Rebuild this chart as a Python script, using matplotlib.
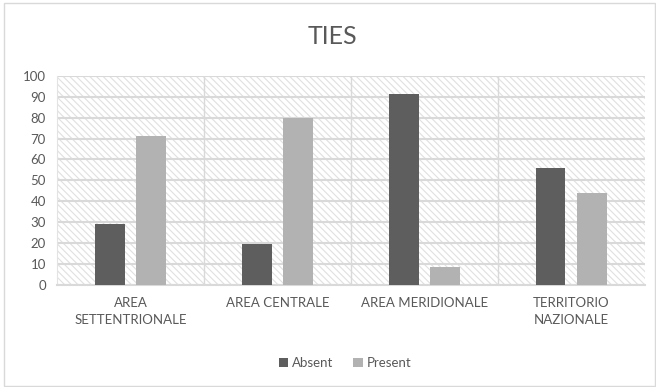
import matplotlib.pyplot as plt
import numpy as np
from matplotlib.patches import Rectangle

plt.rcParams['font.family'] = ['Lato', 'DejaVu Sans']
plt.rcParams['hatch.linewidth'] = 0.8

categories = ["AREA\nSETTENTRIONALE", "AREA CENTRALE", "AREA MERIDIONALE", "TERRITORIO\nNAZIONALE"]
absent = [29, 19.5, 91.5, 56]
present = [71, 80, 8.5, 44]
yticks = [0, 10, 20, 30, 40, 50, 60, 70, 80, 90, 100]

fig = plt.figure(figsize=(6.56, 3.87), dpi=100)
ax = fig.add_axes([0.087, 0.264, 0.896, 0.540])

# hatched plot background
ax.add_patch(Rectangle((0, 0), 1, 1, transform=ax.transAxes, facecolor='white',
                       edgecolor='#e0e0e0', hatch='\\\\\\\\\\', lw=0, zorder=0))

x = np.arange(len(categories))
w = 0.2
ax.bar(x - 0.14, absent, w, color='#5e5e5e', label='Absent', zorder=3)
ax.bar(x + 0.14, present, w, color='#b2b2b2', label='Present', zorder=3)

ax.set_xlim(-0.5, len(categories) - 0.5)
ax.set_ylim(0, 100)
ax.set_yticks(yticks)
ax.set_xticks(x)
ax.set_xticklabels(categories, linespacing=1.45)
ax.tick_params(length=0, colors='#595959', labelsize=9.5)
ax.tick_params(axis='y', pad=8)
ax.tick_params(axis='x', pad=9)

ax.grid(axis='y', color='#d9d9d9', lw=1.5, zorder=1)
for b in np.arange(0.5, len(categories) - 1, 1):
    ax.axvline(b, color='#d9d9d9', lw=1, zorder=1)

for s in ['top', 'right']:
    ax.spines[s].set_visible(False)
ax.spines['left'].set_color('#e3e3e3')
ax.spines['bottom'].set_color('#d9d9d9')
ax.spines['bottom'].set_linewidth(1.5)

fig.text(0.507, 0.905, "TIES", ha='center', va='center', fontsize=18, color='#595959')

ax.legend(loc='upper center', bbox_to_anchor=(0.49, -0.29), ncol=2, frameon=False,
          fontsize=9.5, labelcolor='#595959', handlelength=0.7, handleheight=0.7,
          handletextpad=0.3, columnspacing=1.5)

fig.patches.append(Rectangle((0.006, 0.003), 0.992, 0.99, transform=fig.transFigure,
                             fill=False, edgecolor='#d9d9d9', lw=1))

plt.savefig('out.png', dpi=100)
